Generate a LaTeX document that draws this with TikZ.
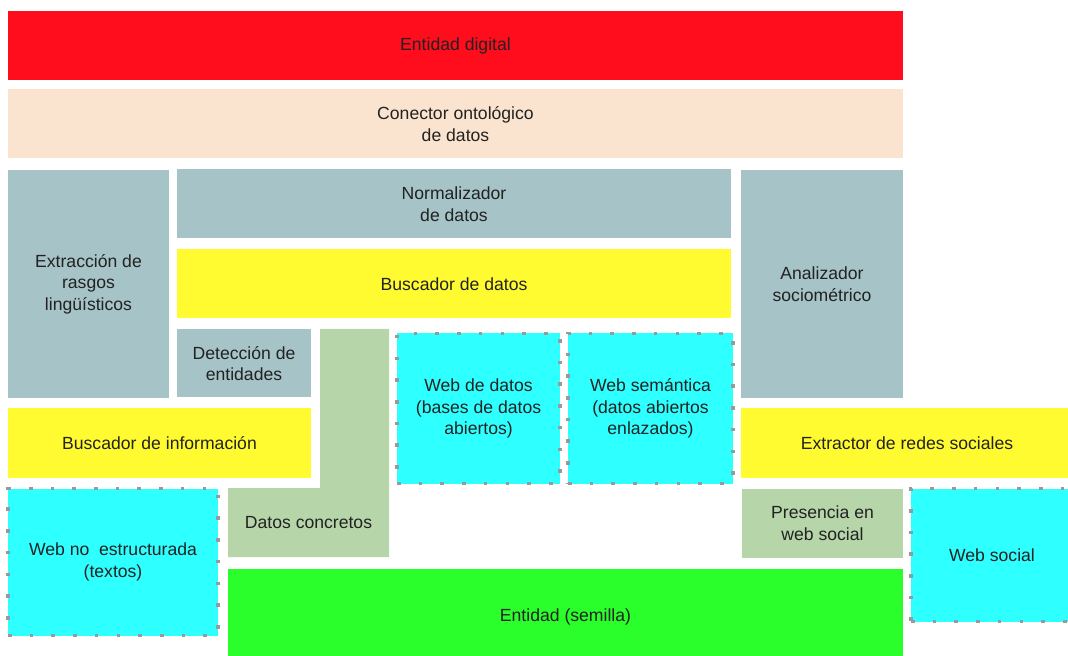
\documentclass[tikz,border=0pt]{standalone}
\usepackage{fontspec}
\setmainfont{Liberation Sans}
\definecolor{cRed}{HTML}{FF0D1D}
\definecolor{cPeach}{HTML}{FBE4CF}
\definecolor{cSlate}{HTML}{A6C3C7}
\definecolor{cYellow}{HTML}{FFFB30}
\definecolor{cSage}{HTML}{B6D6A9}
\definecolor{cCyan}{HTML}{2EFFFF}
\definecolor{cGreen}{HTML}{2BFF2B}
\definecolor{cDot}{HTML}{999999}
\definecolor{cText}{HTML}{222222}
\begin{document}
\begin{tikzpicture}[x=0.5pt,y=-0.5pt,
  box/.style={rectangle,inner sep=0pt,align=center,text=cText,
    font=\fontsize{8.8}{10.8}\selectfont},
  dotbox/.style={box,fill=cCyan,draw=cDot,line width=1.8pt,
    dash pattern=on 1.8pt off 9.05pt}]
\useasboundingbox (0,0) rectangle (1068,656);
\begin{scope}
\clip (0,0) rectangle (1068,656);
\node[box,fill=cRed,minimum width=447.5pt,minimum height=34.5pt] (dig) at (455.5,45.5) {Entidad digital};
\node[box,fill=cPeach,minimum width=447.5pt,minimum height=34.5pt] (con) at (455.5,124) {Conector ontológico\\de datos};
\node[box,fill=cSlate,minimum width=80.5pt,minimum height=114pt] (ext) at (88.5,284) {Extracción de\\rasgos\\lingüísticos};
\node[box,fill=cSlate,minimum width=277pt,minimum height=34.5pt] (nor) at (454,204) {Normalizador\\de datos};
\node[box,fill=cYellow,minimum width=277pt,minimum height=34.5pt] (bus) at (454,284) {Buscador de datos};
\node[box,fill=cSlate,minimum width=81pt,minimum height=114pt] (ana) at (822,284) {Analizador\\sociométrico};
\node[box,fill=cSlate,minimum width=67pt,minimum height=34pt] (det) at (244,363.5) {Detección de\\entidades};
\fill[cSage] (320,329) -- (389,329) -- (389,557) -- (228,557) -- (228,488) -- (320,488) -- cycle;
\node[box] (dc) at (308.5,523) {Datos concretos};
\node[box,fill=cYellow,minimum width=151.5pt,minimum height=34.5pt] (binf) at (159.5,443) {Buscador de información};
\node[box,fill=cGreen,minimum width=337.5pt,minimum height=48pt] (sem) at (565.5,616.5) {Entidad (semilla)};
\node[box,fill=cYellow,minimum width=166pt,minimum height=34.5pt] (ers) at (907,443) {Extractor de redes sociales};
\node[box,fill=cSage,minimum width=80.5pt,minimum height=34.5pt] (pres) at (822.5,523) {Presencia en\\web social};
\node[dotbox,minimum width=105pt,minimum height=73.5pt] (webno) at (113,562) {Web no~ estructurada\\(textos)};
\node[dotbox,minimum width=81.5pt,minimum height=75pt] (wd) at (478.5,408.5) {Web de datos\\(bases de datos\\abiertos)};
\node[dotbox,minimum width=82.5pt,minimum height=75pt] (wsem) at (650.5,408.5) {Web semántica\\(datos abiertos\\enlazados)};
\node[dotbox,minimum width=81pt,minimum height=66.5pt] (wsoc) at (992,555) {Web social};
\end{scope}
\end{tikzpicture}
\end{document}
